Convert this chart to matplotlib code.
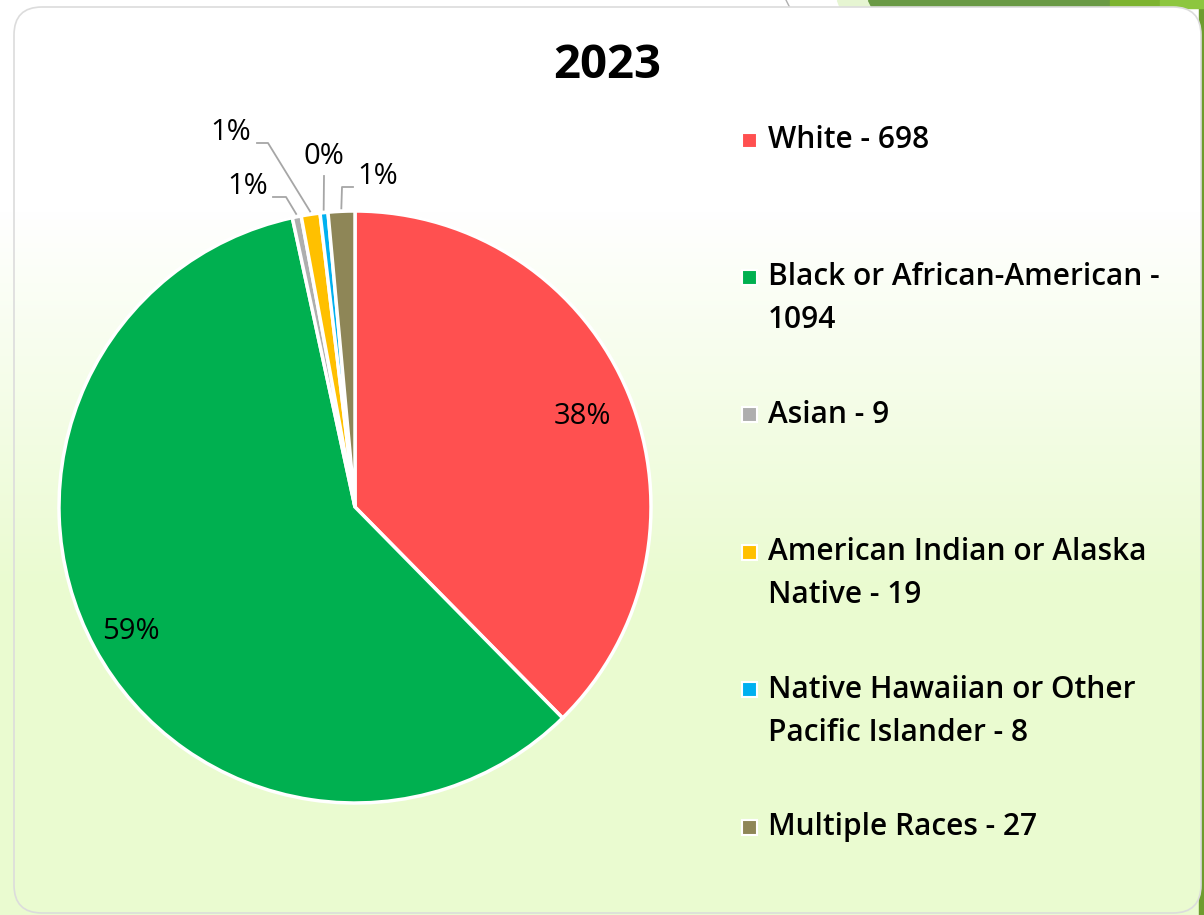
import numpy as np
import matplotlib
matplotlib.use('Agg')
import matplotlib.pyplot as plt
from matplotlib.patches import FancyBboxPatch, Rectangle, Polygon
from matplotlib.colors import LinearSegmentedColormap

plt.rcParams['font.family'] = ['Open Sans', 'DejaVu Sans']

# data
categories = ['White', 'Black or African-American', 'Asian',
              'American Indian or Alaska Native',
              'Native Hawaiian or Other Pacific Islander', 'Multiple Races']
values = [698, 1094, 9, 19, 8, 27]
pct_labels = ['38%', '59%', '1%', '1%', '0%', '1%']
legend_labels = ['White - 698', 'Black or African-American -\n1094', 'Asian - 9',
                 'American Indian or Alaska\nNative - 19',
                 'Native Hawaiian or Other\nPacific Islander - 8', 'Multiple Races - 27']
colors = ['#FF5050', '#00B050', '#AEAEAE', '#FFC000', '#00B0F0', '#8E8657']
title = '2023'

W, H = 1204, 915
fig = plt.figure(figsize=(W / 100, H / 100), dpi=100)
ax = fig.add_axes([0, 0, 1, 1])

def py(y):
    # pixel row (from top) -> data y
    return H - y

# background gradient (white top -> pale green bottom)
cmap = LinearSegmentedColormap.from_list('bg', ['#FFFFFF', '#EAFBD0'])
rows = np.arange(H)
grad = np.clip((rows - 210) / 380.0, 0, 1)[:, None]
ax.imshow(grad, cmap=cmap, vmin=0, vmax=1, extent=[0, W, 0, H], aspect='auto',
          origin='upper', zorder=0)

# decorations outside the card
ax.add_patch(Rectangle((1199, 0), 5, H, color='#6E9C2E', zorder=1))
ax.add_patch(Polygon([(837, py(0)), (870, py(0)), (870, py(8)), (840, py(8))],
                     color='#E6F5D2', zorder=1))
ax.add_patch(Polygon([(868, py(0)), (1110, py(0)), (1110, py(8)), (872, py(8))],
                     color='#6A9A45', zorder=1))
ax.add_patch(Rectangle((1110, py(8)), 50, 8, color='#7DB32F', zorder=1))
ax.add_patch(Rectangle((1160, py(8)), 44, 8, color='#8DC63F', zorder=1))
ax.plot([786, 790], [py(0), py(8)], color='#B0B0B0', lw=1, zorder=1)

# card
card = FancyBboxPatch((14 + 28, py(913) + 28), 1187 - 56, 906 - 56,
                      boxstyle='round,pad=28', facecolor='none',
                      edgecolor='#DCDCDC', lw=1.2, zorder=3)
ax.add_patch(card)
card_fill = ax.imshow(grad, cmap=cmap, vmin=0, vmax=1, extent=[0, W, 0, H],
                      aspect='auto', origin='upper', zorder=2)
card_fill.set_clip_path(card)

# pie
cx, cy, r = 355, py(507), 296
wedges, _ = ax.pie(values, colors=colors, startangle=90, counterclock=False,
                   center=(cx, cy), radius=r,
                   wedgeprops=dict(edgecolor='white', linewidth=2.5))
for w in wedges:
    w.set_zorder(4)

def mid_angle(w):
    return np.deg2rad((w.theta1 + w.theta2) / 2)

# inside labels for the two big slices
for i, d in [(0, 0.83), (1, 0.86)]:
    a = mid_angle(wedges[i])
    ax.text(cx + d * r * np.cos(a), cy + d * r * np.sin(a) - 3, pct_labels[i],
            ha='center', va='center', fontsize=21, fontweight='medium',
            color='black', zorder=6)

# outside labels with leader lines (elbow, end, text position, alignment)
leaders = {
    2: [(286, 197), (273, 197), (268, 186), 'right'],
    3: [(268, 143), (257, 143), (251, 133), 'right'],
    4: [(324, 176), (324, 176), (324, 157), 'center'],
    5: [(342, 187), (353, 187), (357, 176), 'left'],
}
for i, (elbow, end, tpos, ha) in leaders.items():
    a = mid_angle(wedges[i])
    x0, y0 = cx + 1.01 * r * np.cos(a), cy + 1.01 * r * np.sin(a)
    ax.plot([x0, elbow[0], end[0]], [y0, py(elbow[1]), py(end[1])],
            color='#A6A6A6', lw=1.3, zorder=5)
    ax.text(tpos[0], py(tpos[1]), pct_labels[i], ha=ha, va='center',
            fontsize=21, fontweight='medium', color='black', zorder=6)

# title
ax.text(607, py(66), title, ha='center', va='center', fontsize=34,
        fontweight='bold', color='black', zorder=6)

# legend
for i, lab in enumerate(legend_labels):
    y = 140 + i * 137.4
    ax.add_patch(Rectangle((742, py(y) - 7.5), 15, 15, facecolor=colors[i],
                           edgecolor='white', lw=1.5, zorder=6))
    for j, line in enumerate(lab.split('\n')):
        ax.text(768, py(y + j * 43), line, ha='left', va='center', fontsize=21.5,
                fontweight='semibold', color='black', zorder=6)

ax.set_xlim(0, W)
ax.set_ylim(0, H)
ax.set_aspect('auto')
ax.axis('off')

fig.savefig('out.png', dpi=100)
